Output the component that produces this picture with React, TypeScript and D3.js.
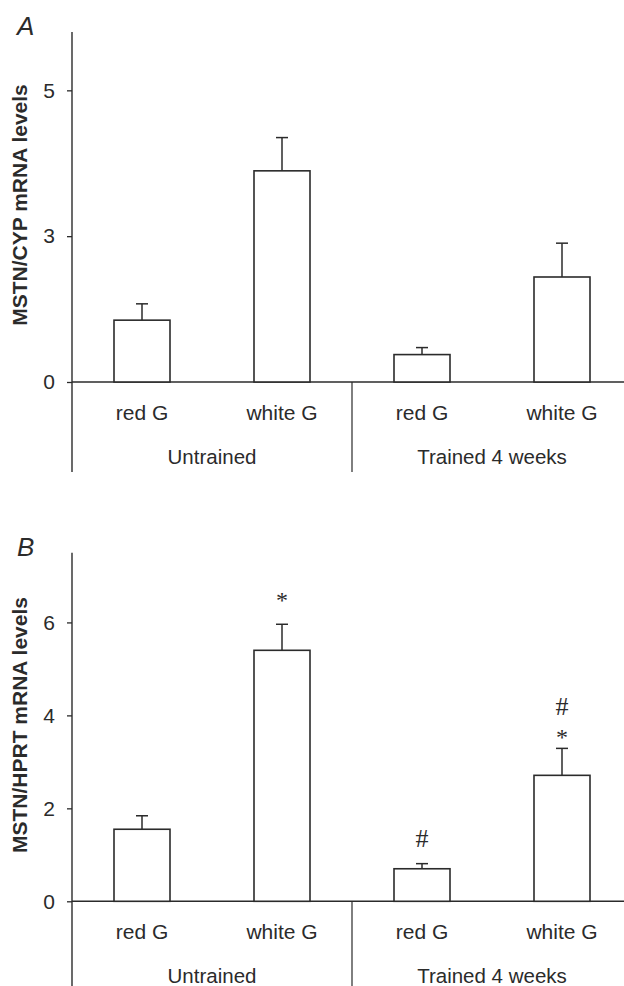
import React, { useEffect, useRef } from "react";
import * as d3 from "d3";

// bar categories and groups
const categories = ["uRed", "uWhite", "tRed", "tWhite"];
const barLabels = ["red G", "white G", "red G", "white G"];
const groupLabels = ["Untrained", "Trained 4 weeks"];

// panel A: MSTN/CYP
const cypMeans = [1.06, 3.62, 0.47, 1.8];
const cypErr = [0.28, 0.57, 0.12, 0.58];
const cypTicks = [0, 2.5, 5];
const cypTickLabels = ["0", "3", "5"];

// panel B: MSTN/HPRT
const hprtMeans = [1.55, 5.4, 0.7, 2.71];
const hprtErr = [0.29, 0.56, 0.11, 0.58];
const hprtTicks = [0, 2, 4, 6];
const hprtTickLabels = ["0", "2", "4", "6"];
const hprtMarks = [[], ["*"], ["#"], ["*", "#"]];
// gap (px) above the error cap for each mark
const hprtMarkGaps = [[], [16], [17], [3, 33]];

const INK = "#2b2b2b";
const SANS = "Liberation Sans, Arial, sans-serif";

const drawPanel = (svg, opts) => {
  const { top, base, axisBottom, yMax, means, errs, ticks, tickLabels, marks, gaps, letter, ylabel } = opts;

  const x = d3.scaleBand().domain(categories).range([72, 632]).paddingInner(0.6).paddingOuter(0.3);
  const y = d3.scaleLinear().domain([0, yMax]).range([base, top]);

  const g = svg.append("g");

  // y axis
  const yAxis = g
    .append("g")
    .attr("transform", "translate(72,0)")
    .call(
      d3
        .axisLeft(y)
        .tickValues(ticks)
        .tickSize(5)
        .tickPadding(12)
        .tickFormat((d, i) => tickLabels[i])
    );
  yAxis.select(".domain").remove();
  yAxis.selectAll("line").attr("stroke", INK).attr("stroke-width", 1.3);
  yAxis
    .selectAll("text")
    .attr("fill", INK)
    .style("font-family", SANS)
    .style("font-size", "21px");

  g.append("line")
    .attr("x1", 72).attr("x2", 72)
    .attr("y1", top).attr("y2", axisBottom)
    .attr("stroke", INK).attr("stroke-width", 1.4);

  // baseline
  g.append("line")
    .attr("x1", 72).attr("x2", 624)
    .attr("y1", base).attr("y2", base)
    .attr("stroke", INK).attr("stroke-width", 1.6);

  // group separator
  const sep = (x(categories[1]) + x.bandwidth() + x(categories[2])) / 2;
  g.append("line")
    .attr("x1", sep).attr("x2", sep)
    .attr("y1", base).attr("y2", axisBottom)
    .attr("stroke", INK).attr("stroke-width", 1.2);

  // error bars
  categories.forEach((c, i) => {
    const cx = x(c) + x.bandwidth() / 2;
    g.append("line")
      .attr("x1", cx).attr("x2", cx)
      .attr("y1", y(means[i])).attr("y2", y(means[i] + errs[i]))
      .attr("stroke", INK).attr("stroke-width", 1.5);
    g.append("line")
      .attr("x1", cx - 6).attr("x2", cx + 6)
      .attr("y1", y(means[i] + errs[i])).attr("y2", y(means[i] + errs[i]))
      .attr("stroke", INK).attr("stroke-width", 1.5);
  });

  // bars
  g.selectAll(".bar")
    .data(means)
    .enter()
    .append("rect")
    .attr("x", (d, i) => x(categories[i]))
    .attr("y", (d) => y(d))
    .attr("width", x.bandwidth())
    .attr("height", (d) => base - y(d))
    .attr("fill", "white")
    .attr("stroke", INK)
    .attr("stroke-width", 1.6);

  // significance marks
  if (marks) {
    marks.forEach((m, i) => {
      const cx = x(categories[i]) + x.bandwidth() / 2;
      m.forEach((s, k) => {
        g.append("text")
          .attr("x", cx)
          .attr("y", y(means[i] + errs[i]) - gaps[i][k])
          .attr("text-anchor", "middle")
          .attr("fill", INK)
          .style("font-family", "Liberation Serif, Times New Roman, serif")
          .style("font-size", s === "*" ? "24px" : "26px")
          .text(s);
      });
    });
  }

  // bar labels
  categories.forEach((c, i) => {
    g.append("text")
      .attr("x", x(c) + x.bandwidth() / 2)
      .attr("y", base + 38)
      .attr("text-anchor", "middle")
      .attr("fill", INK)
      .style("font-family", SANS)
      .style("font-size", "21px")
      .text(barLabels[i]);
  });

  // group labels
  const groupCenters = [(72 + sep) / 2, (sep + 632) / 2];
  groupLabels.forEach((t, i) => {
    g.append("text")
      .attr("x", groupCenters[i])
      .attr("y", base + 82)
      .attr("text-anchor", "middle")
      .attr("fill", INK)
      .style("font-family", SANS)
      .style("font-size", "20.5px")
      .text(t);
  });

  // y label
  g.append("text")
    .attr("transform", `translate(27,${(top + base) / 2 - 2}) rotate(-90)`)
    .attr("text-anchor", "middle")
    .attr("fill", INK)
    .style("font-family", SANS)
    .style("font-size", "21px")
    .style("font-weight", "bold")
    .text(ylabel);

  // panel letter
  g.append("text")
    .attr("x", 17)
    .attr("y", top + 3)
    .attr("fill", INK)
    .style("font-family", SANS)
    .style("font-size", "26px")
    .style("font-style", "italic")
    .text(letter);
};

const App = () => {
  const ref = useRef(null);

  useEffect(() => {
    const svg = d3.select(ref.current);
    svg.selectAll("*").remove();

    drawPanel(svg, {
      top: 32,
      base: 382,
      axisBottom: 472,
      yMax: 6,
      means: cypMeans,
      errs: cypErr,
      ticks: cypTicks,
      tickLabels: cypTickLabels,
      marks: null,
      gaps: null,
      letter: "A",
      ylabel: "MSTN/CYP mRNA levels",
    });

    drawPanel(svg, {
      top: 552.7,
      base: 901.3,
      axisBottom: 986,
      yMax: 7.5,
      means: hprtMeans,
      errs: hprtErr,
      ticks: hprtTicks,
      tickLabels: hprtTickLabels,
      marks: hprtMarks,
      gaps: hprtMarkGaps,
      letter: "B",
      ylabel: "MSTN/HPRT mRNA levels",
    });
  }, []);

  return (
    <div style={{ position: "absolute", left: 0, top: 0 }}>
      <svg ref={ref} width={624} height={986} style={{ display: "block", background: "white" }}></svg>
    </div>
  );
};

export default App;
